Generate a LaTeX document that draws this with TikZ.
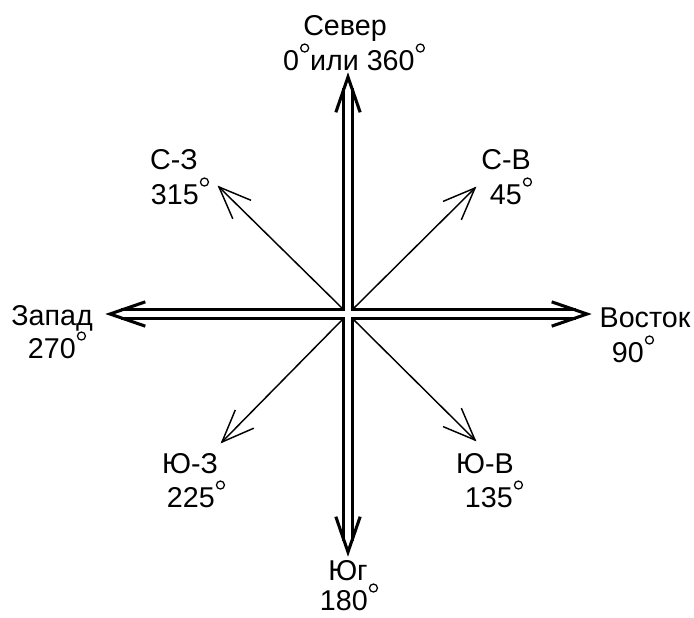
\documentclass[tikz,border=0pt]{standalone}
\usepackage{fontspec}
\setmainfont{Liberation Sans}
\usetikzlibrary{calc}
\newcommand{\dg}{\hspace{0.8pt}\raisebox{13pt}{\tikz\draw[line width=0.95pt] (0,0) circle (3pt);}\hspace{0.6pt}}
\begin{document}
\begin{tikzpicture}[x=0.75pt,y=-0.75pt,
  lbl/.style={font=\fontsize{21.5}{24}\selectfont, inner sep=0pt, anchor=base},
  dbl/.style={line width=2.3pt, line join=miter, line cap=butt},
  dhead/.style={line width=2.3pt, line join=miter, miter limit=20},
  thinarr/.style={line width=1.1pt},
  thinhead/.style={line width=1.1pt, line join=miter, miter limit=20}]
\useasboundingbox (0,0) rectangle (694,618);
\fill[white] (0,0) rectangle (694,618);
\coordinate (C) at (348,314);
% main arrow tips
\coordinate (Nt) at (348,77);
\coordinate (Et) at (587,314);
\coordinate (St) at (348,552);
\coordinate (Wt) at (110,314);
% double shafts as four L-shapes
\draw[dbl] (343.5,88) -- (343.5,309.5) -- (121,309.5);
\draw[dbl] (352.5,88) -- (352.5,309.5) -- (576,309.5);
\draw[dbl] (576,318.5) -- (352.5,318.5) -- (352.5,541);
\draw[dbl] (121,318.5) -- (343.5,318.5) -- (343.5,541);
% double heads
\foreach \t in {Nt,Et,St,Wt}{
  \draw[dhead] ($(\t)!28pt!19:(C)$) -- (\t) -- ($(\t)!28pt!-19:(C)$);
}
% diagonal arrows
\coordinate (NEt) at (475,188);
\coordinate (NWt) at (219,187);
\coordinate (SWt) at (222,442);
\coordinate (SEt) at (475,440);
\draw[thinarr] (352.5,309.5) -- (NEt);
\draw[thinarr] (343.5,309.5) -- (NWt);
\draw[thinarr] (343.5,318.5) -- (SWt);
\draw[thinarr] (352.5,318.5) -- (SEt);
\foreach \t/\s in {NEt/{352.5,309.5},NWt/{343.5,309.5},SWt/{343.5,318.5},SEt/{352.5,318.5}}{
  \draw[thinhead] ($(\t)!26pt!22:(\s)$) -- (\t) -- ($(\t)!26pt!-22:(\s)$);
}
% labels
\node[lbl] (n1) at (345,35) {Север};
\node[lbl] (n2) at (354,70) {0\dg или 360\dg};
\node[lbl] (nw1) at (174,169) {С-З};
\node[lbl] (nw2) at (180,204) {315\dg};
\node[lbl] (ne1) at (506,169) {С-В};
\node[lbl] (ne2) at (511,204) {45\dg};
\node[lbl] (w1) at (52,325) {Запад};
\node[lbl] (w2) at (57,358) {270\dg};
\node[lbl] (e1) at (645,327) {Восток};
\node[lbl] (e2) at (633,362) {90\dg};
\node[lbl] (sw1) at (190,473) {Ю-З};
\node[lbl] (sw2) at (196,507) {225\dg};
\node[lbl] (se1) at (485,473) {Ю-В};
\node[lbl] (se2) at (494,507) {135\dg};
\node[lbl] (s1) at (348,580) {Юг};
\node[lbl] (s2) at (349,610) {180\dg};
\end{tikzpicture}
\end{document}
